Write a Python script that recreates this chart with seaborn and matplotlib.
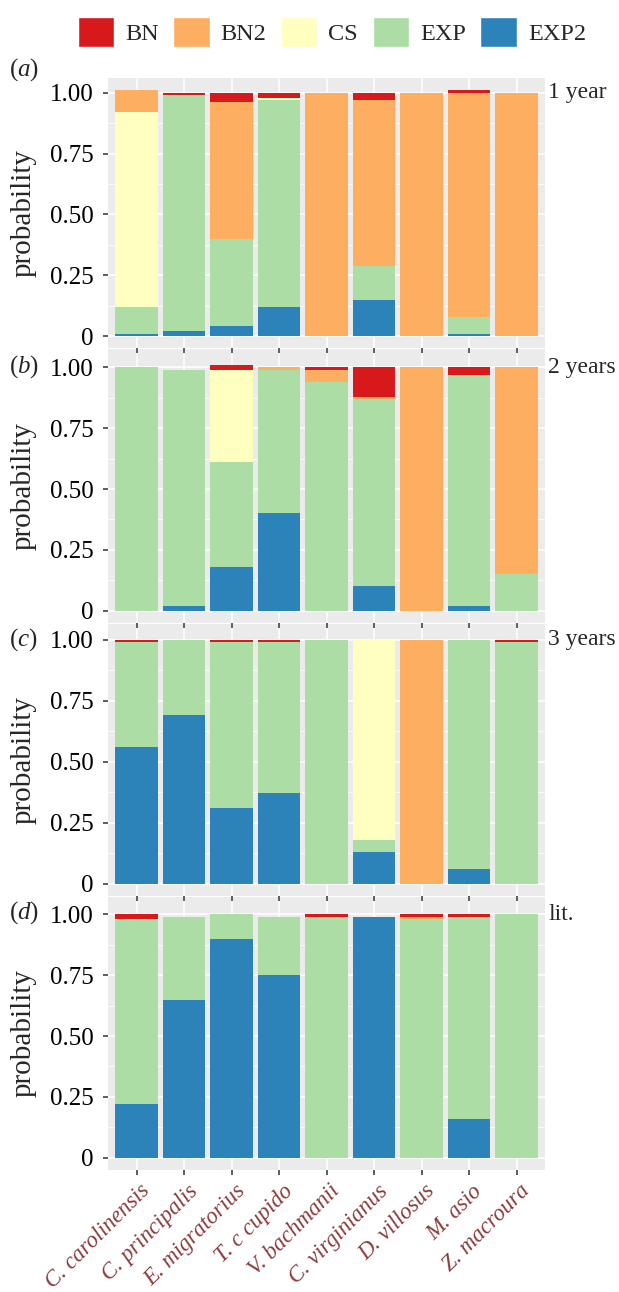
import pandas as pd
import seaborn as sns
import matplotlib.pyplot as plt
import matplotlib.transforms as mtransforms
from matplotlib.patches import Patch

# species on the x axis and model names (stack order from top to bottom)
species = ["C. carolinensis", "C. principalis", "E. migratorius", "T. c cupido",
           "V. bachmanii", "C. virginianus", "D. villosus", "M. asio", "Z. macroura"]
models = ["BN", "BN2", "CS", "EXP", "EXP2"]
palette = ["#d7191c", "#fdae61", "#ffffbf", "#abdda4", "#2b83ba"]

# (a) 1 year
year1 = {
    "BN":   [0, 0.01, 0.04, 0.02, 0, 0.03, 0, 0.01, 0],
    "BN2":  [0.09, 0, 0.56, 0, 1.00, 0.68, 1.00, 0.92, 1.00],
    "CS":   [0.80, 0, 0, 0.01, 0, 0, 0, 0, 0],
    "EXP":  [0.11, 0.97, 0.36, 0.85, 0, 0.14, 0, 0.07, 0],
    "EXP2": [0.01, 0.02, 0.04, 0.12, 0, 0.15, 0, 0.01, 0],
}
# (b) 2 years
year2 = {
    "BN":   [0, 0, 0.02, 0, 0.01, 0.12, 0, 0.03, 0],
    "BN2":  [0, 0, 0, 0.01, 0.05, 0.01, 1.00, 0, 0.85],
    "CS":   [0, 0, 0.38, 0, 0, 0, 0, 0, 0],
    "EXP":  [1.00, 0.97, 0.43, 0.59, 0.94, 0.77, 0, 0.95, 0.15],
    "EXP2": [0, 0.02, 0.18, 0.40, 0, 0.10, 0, 0.02, 0],
}
# (c) 3 years
year3 = {
    "BN":   [0.01, 0, 0.01, 0.01, 0, 0, 0, 0, 0.01],
    "BN2":  [0, 0, 0, 0, 0, 0, 1.00, 0, 0],
    "CS":   [0, 0, 0, 0, 0, 0.82, 0, 0, 0],
    "EXP":  [0.43, 0.31, 0.68, 0.62, 1.00, 0.05, 0, 0.94, 0.99],
    "EXP2": [0.56, 0.69, 0.31, 0.37, 0, 0.13, 0, 0.06, 0],
}
# (d) literature
lit = {
    "BN":   [0.02, 0, 0, 0, 0.01, 0, 0.01, 0.01, 0],
    "BN2":  [0, 0, 0, 0, 0, 0, 0.01, 0, 0],
    "CS":   [0, 0, 0, 0, 0, 0, 0, 0, 0],
    "EXP":  [0.76, 0.34, 0.10, 0.24, 0.99, 0, 0.98, 0.83, 1.00],
    "EXP2": [0.22, 0.65, 0.90, 0.75, 0, 0.99, 0, 0.16, 0],
}

panels = [("a", "1 year", year1), ("b", "2 years", year2),
          ("c", "3 years", year3), ("d", "lit.", lit)]

sns.set_theme(style="darkgrid")
plt.rcParams['font.family'] = ['Liberation Serif', 'DejaVu Serif']
plt.rcParams['mathtext.fontset'] = 'custom'
plt.rcParams['mathtext.rm'] = 'Liberation Serif'
plt.rcParams['mathtext.it'] = 'Liberation Serif:italic'

W, H = 619, 1292
fig = plt.figure(figsize=(W / 100, H / 100), dpi=100)

# pixel rows of the 1.00 line in each panel, pixels per unit
one_px = [92.7, 367.3, 640.0, 914.3]
unit = 243.5
lo = -0.0505
tag_y = [70, 367, 640, 913]
fs = 18

prev_bottom = None
for i, (tag, label, vals) in enumerate(panels):
    bottom_px = one_px[i] + unit * (1 - lo)
    top_px = 78 if prev_bottom is None else prev_bottom + 1
    hi = 1 + (one_px[i] - top_px) / unit
    prev_bottom = bottom_px
    ax = fig.add_axes([108 / W, 1 - bottom_px / H, 437 / W, (bottom_px - top_px) / H],
                      zorder=10 - i)
    df = pd.DataFrame([(sp, m, vals[m][j]) for m in models for j, sp in enumerate(species)],
                      columns=["species", "model", "prob"])
    df["species"] = pd.Categorical(df["species"], categories=species)
    sns.histplot(data=df, x="species", weights="prob", hue="model", hue_order=models,
                 palette=palette, multiple="stack", discrete=True, shrink=0.9,
                 alpha=1, linewidth=0, legend=False, ax=ax)

    ax.set_facecolor("#ebebeb")
    ax.set_xlim(-0.6, 8.6)
    ax.set_ylim(lo, hi)
    ax.set_yticks([0, 0.25, 0.5, 0.75, 1.0])
    ax.set_yticklabels(["0", "0.25", "0.50", "0.75", "1.00"])
    ax.set_yticks([0.125, 0.375, 0.625, 0.875], minor=True)
    ax.set_xticks(range(len(species)))
    ax.grid(which="major", color="white", lw=1.1)
    ax.grid(which="minor", axis="y", color="white", lw=0.55)
    ax.set_axisbelow(True)
    for s in ax.spines.values():
        s.set_visible(False)
    ax.tick_params(which="major", bottom=True, left=True, length=3.6, width=1.1,
                   color="#333333", labelsize=fs, pad=6.5, labelcolor="black")
    ax.tick_params(which="minor", length=0)
    ax.set_ylabel("probability", fontsize=21, labelpad=10)
    ax.set_xlabel("")

    if i == len(panels) - 1:
        ax.set_xticklabels(species, rotation=45, ha="right", va="top",
                           rotation_mode="anchor", style="italic", color="#8b3a3a",
                           fontsize=16.5)
        ax.tick_params(axis="x", pad=4)
        shift = mtransforms.ScaledTranslation(0.03, 0.0, fig.dpi_scale_trans)
        for t in ax.get_xticklabels():
            t.set_transform(t.get_transform() + shift)
    else:
        ax.set_xticklabels([])

    ax.text(1.007, 1.0, label, transform=ax.get_yaxis_transform(),
            va="center", ha="left", fontsize=17)
    fig.text(9 / W, 1 - tag_y[i] / H, r"($\mathit{%s}$)" % tag, va="center",
             ha="left", fontsize=18)

handles = [Patch(facecolor=c, label=m) for m, c in zip(models, palette)]
fig.legend(handles=handles, loc="center", bbox_to_anchor=(0.536, 1 - 32 / H), ncol=5,
           frameon=False, fontsize=17.5, handlelength=1.5, handleheight=1.5,
           handletextpad=0.45, columnspacing=0.6)

fig.savefig("out.png", dpi=100)
